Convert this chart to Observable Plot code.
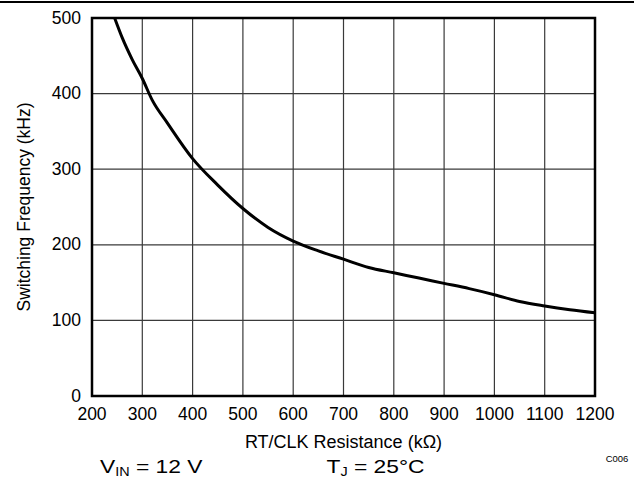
<!DOCTYPE html>
<html>
<head>
<meta charset="utf-8">
<script src="https://cdn.jsdelivr.net/npm/d3@7"></script>
<script src="https://cdn.jsdelivr.net/npm/@observablehq/plot@0.6"></script>
<style>
  html, body { margin: 0; padding: 0; background: #fff; }
  svg { display: block; }
</style>
</head>
<body>
<div id="chart"></div>
<script>
// Data
const resistance = [245, 260, 280, 300, 320, 350, 400, 450, 500, 550, 600, 650, 700, 750, 800, 850, 900, 950, 1000, 1050, 1100, 1150, 1200];
const frequency  = [500, 474, 445, 420, 391, 361, 314, 279, 248, 223, 205, 192, 181, 170, 163, 156, 149, 142, 134, 125, 119, 114, 110];
const xTicks = [200, 300, 400, 500, 600, 700, 800, 900, 1000, 1100, 1200];
const yTicks = [0, 100, 200, 300, 400, 500];
const xLabel = "RT/CLK Resistance (kΩ)";
const yLabel = "Switching Frequency (kHz)";
const codeLabel = "C006";

const data = resistance.map((r, i) => ({r, f: frequency[i]}));
const font = "'Liberation Sans', Arial, Helvetica, sans-serif";

const chart = Plot.plot({
  width: 634,
  height: 480,
  marginLeft: 91.5,
  marginRight: 39.5,
  marginTop: 17.5,
  marginBottom: 84.5,
  style: {fontFamily: font, fontSize: "17.5px", color: "#000", background: "#fff"},
  x: {domain: [200, 1200]},
  y: {domain: [0, 500]},
  marks: [
    Plot.gridX(xTicks.slice(1, -1), {stroke: "#3a3a3a", strokeOpacity: 1, strokeWidth: 1.2}),
    Plot.gridY(yTicks.slice(1, -1), {stroke: "#3a3a3a", strokeOpacity: 1, strokeWidth: 1.2}),
    Plot.line(data, {x: "r", y: "f", stroke: "#000", strokeWidth: 3, curve: "monotone-x", clip: true}),
    Plot.frame({stroke: "#000", strokeWidth: 2.5}),
    Plot.axisX(xTicks, {tickSize: 0, tickPadding: 12, label: null, fontSize: 17.5, tickFormat: d3.format("d")}),
    Plot.axisY(yTicks, {tickSize: 0, tickPadding: 11, label: null, fontSize: 17.5, tickFormat: d3.format("d")}),
    Plot.text([xLabel], {frameAnchor: "bottom", dy: 46, fontSize: 18, textAnchor: "middle", lineAnchor: "middle"}),
    Plot.text([yLabel], {frameAnchor: "left", dx: -68, rotate: -90, fontSize: 17.5, textAnchor: "middle", lineAnchor: "middle"}),
    Plot.text([codeLabel], {frameAnchor: "bottom-right", dx: 22, dy: 63, fontSize: 9.5, textAnchor: "middle", lineAnchor: "middle"})
  ]
});

const svg = d3.select(chart);
svg.append("line")
  .attr("x1", 0).attr("x2", 634).attr("y1", 2).attr("y2", 2)
  .attr("stroke", "#000").attr("stroke-width", 2);

function note(x, main, sub, rest) {
  const t = svg.append("text")
    .attr("transform", `translate(${x},473) scale(1.2,1)`)
    .attr("text-anchor", "start")
    .attr("font-family", font).attr("font-size", 19).attr("fill", "#000");
  t.append("tspan").text(main);
  t.append("tspan").attr("font-size", 12).attr("dy", 3).text(sub);
  t.append("tspan").attr("dy", -3).text(rest);
}
note(100, "V", "IN", " = 12 V");
note(326.5, "T", "J", " = 25°C");

document.getElementById("chart").appendChild(chart);
</script>
</body>
</html>
